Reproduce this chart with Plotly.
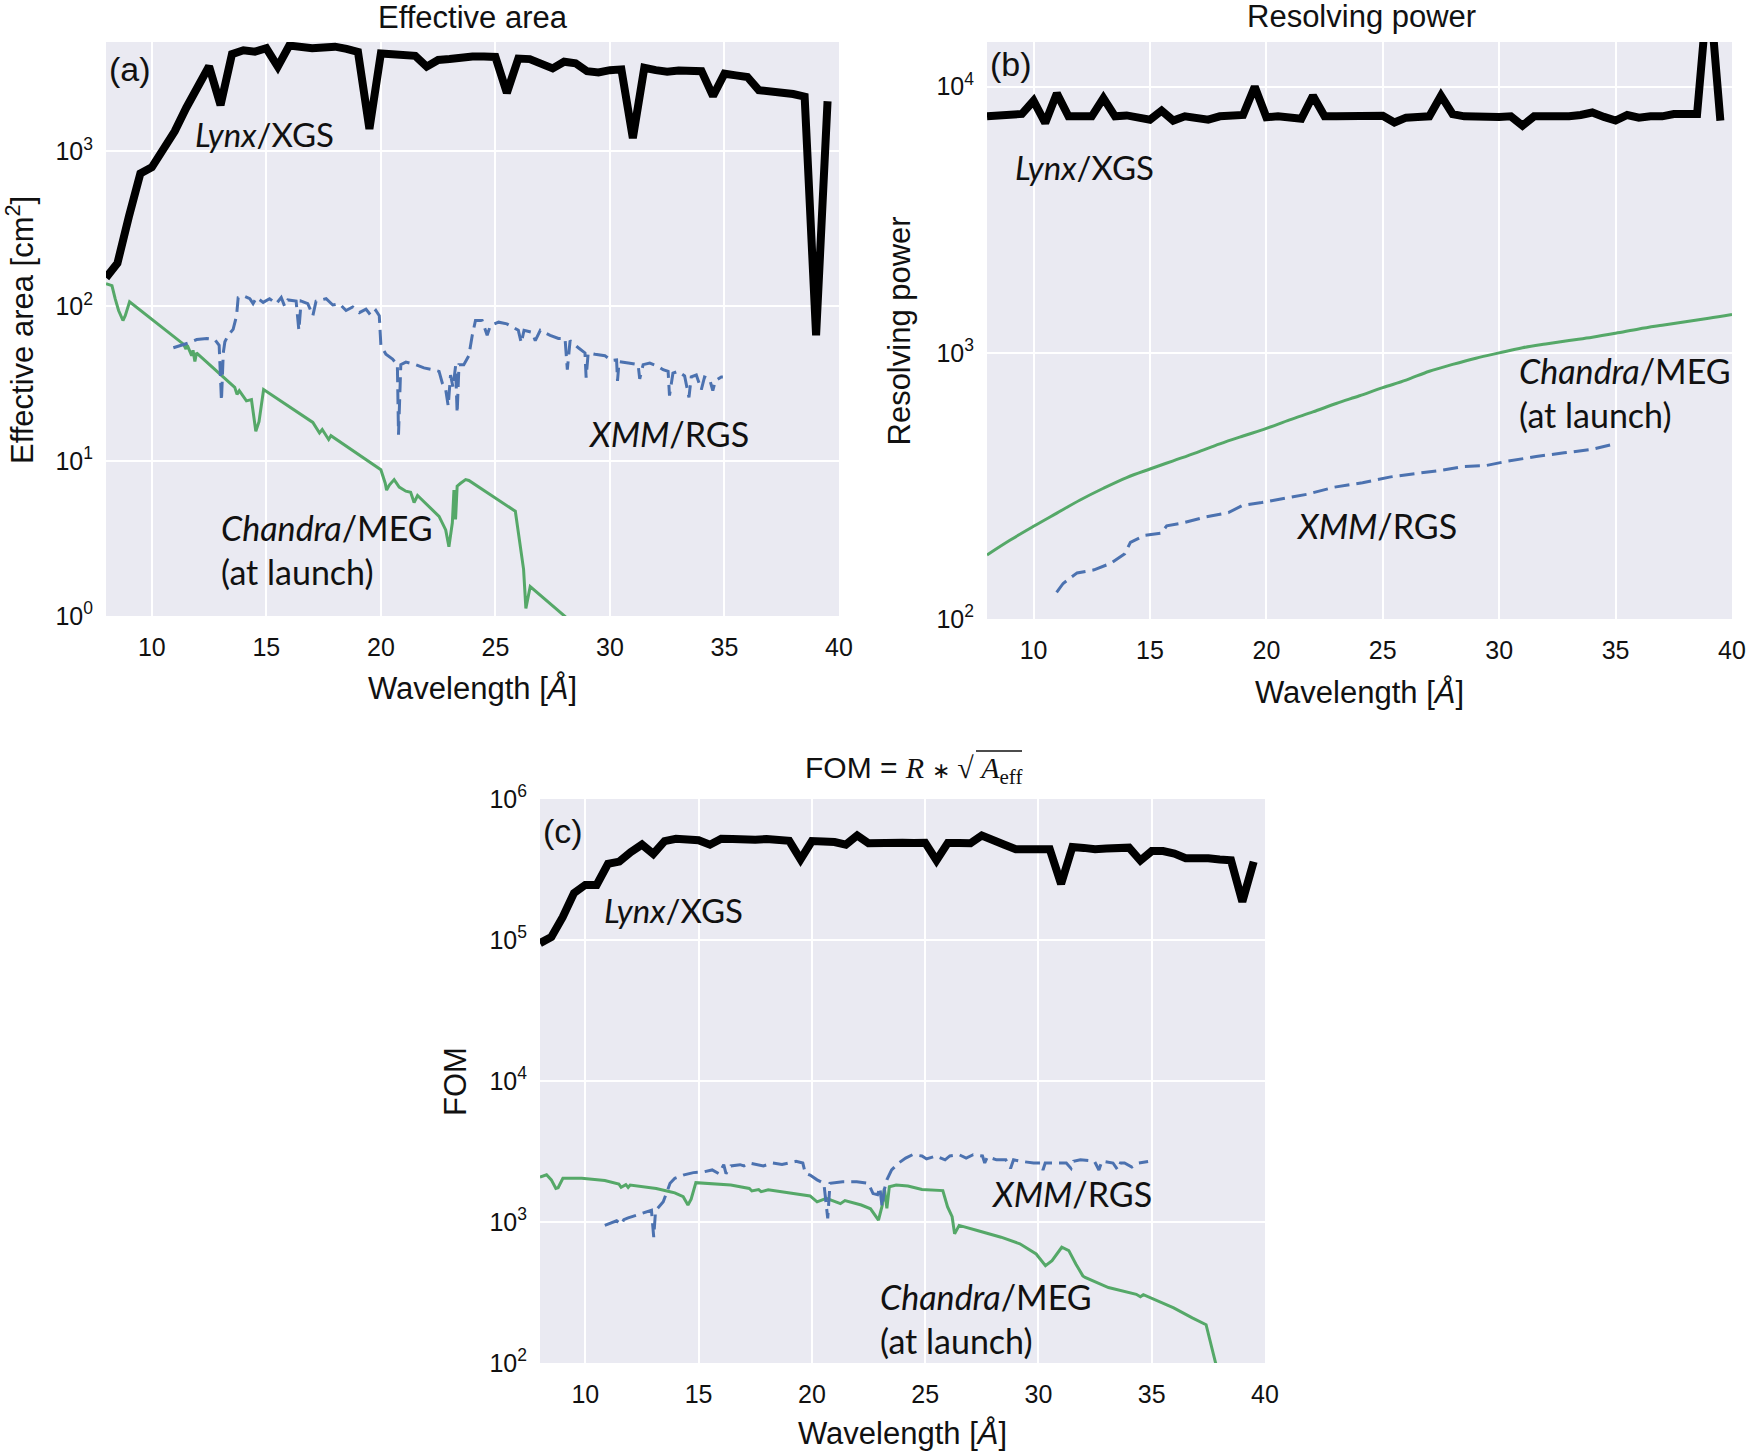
import plotly.graph_objects as go

# ---------------- data ----------------
lynx_wl = [8.0, 8.5, 9.0, 9.5, 10.0, 10.5, 11.0, 11.5, 12.0, 12.5, 13.0, 13.5, 14.0, 14.5, 15.0, 15.5,
           16.0, 16.5, 17.0, 17.5, 18.0, 18.5, 19.0, 19.5, 20.0, 20.5, 21.0, 21.5, 22.0, 22.5, 23.0, 23.5,
           24.0, 24.5, 25.0, 25.5, 26.0, 26.5, 27.0, 27.5, 28.0, 28.5, 29.0, 29.5, 30.0, 30.5, 31.0, 31.5,
           32.0, 32.5, 33.0, 33.5, 34.0, 34.5, 35.0, 35.5, 36.0, 36.5, 37.0, 37.5, 38.0, 38.5, 39.0, 39.5]
lynx_area = [153, 190, 380, 720, 790, 1050, 1350, 1910, 2640, 3550, 1990, 4250, 4500, 4410, 4640, 3530,
             4830, 4700, 4640, 4700, 4750, 4600, 4400, 1400, 4300, 4250, 4230, 4150, 3530, 3900, 3950, 4050,
             4100, 4100, 4080, 2390, 3980, 3950, 3700, 3440, 3800, 3710, 3300, 3240, 3350, 3390, 1220, 3470,
             3350, 3270, 3330, 3340, 3300, 2280, 3180, 3100, 3030, 2490, 2460, 2430, 2350, 2260, 65, 2110]
lynx_R = [7740, 7780, 7830, 7900, 8850, 7310, 9440, 7740, 7740, 7740, 9060, 7740, 7800, 7650, 7520, 8130,
          7460, 7740, 7600, 7520, 7740, 7780, 7830, 10000, 7680, 7740, 7650, 7580, 9250, 7740, 7740, 7740,
          7700, 7650, 7780, 7340, 7650, 7700, 7740, 9250, 7890, 7740, 7700, 7740, 7700, 7740, 7140, 7740,
          7700, 7700, 7740, 7830, 8000, 7700, 7460, 7830, 7650, 7740, 7740, 7890, 7830, 7890, 25000, 7460]
lynx_fom = [95000, 105000, 145000, 215000, 246000, 246000, 347000, 360000, 420000, 475000, 408000, 503000,
            522000, 515000, 510000, 474000, 522000, 520000, 510000, 515000, 520000, 520000, 505000, 373000,
            503000, 500000, 495000, 474000, 551000, 485000, 490000, 495000, 490000, 488000, 490000, 367000,
            488000, 488000, 485000, 551000, 503000, 474000, 440000, 440000, 440000, 440000, 250000, 457000,
            450000, 440000, 445000, 448000, 452000, 366000, 427000, 427000, 410000, 380000, 382000, 380000,
            372000, 367000, 187000, 359000]

meg_area_wl = [8.0, 8.26, 8.4, 8.55, 8.74, 8.84, 9.03, 11.38, 11.49, 11.55, 11.74, 11.8, 11.88, 11.95,
               13.62, 13.72, 13.82, 14.0, 14.13, 14.35, 14.54, 14.68, 14.88, 17.03, 17.17, 17.32, 17.44,
               17.6, 17.72, 17.82, 20.0, 20.19, 20.25, 20.37, 20.58, 20.8, 21.09, 21.3, 21.45, 21.6, 21.8,
               22.54, 22.83, 22.97, 23.12, 23.19, 23.26, 23.33, 23.48, 23.7, 23.84, 25.87, 26.23, 26.33,
               26.52, 28.04, 29.0, 30.0, 32.0, 35.0, 38.0]
meg_area = [140, 136, 112, 94, 81, 87, 107, 57, 53, 56, 48, 52, 44, 50, 30, 27, 28.5, 26, 24.5, 25, 15.6,
            18, 29, 17.8, 16.5, 15.2, 16, 14.8, 13.8, 14.6, 8.8, 7.2, 6.5, 7.0, 7.6, 6.8, 6.4, 6.3, 5.4,
            6.0, 5.6, 4.4, 3.6, 2.8, 4.0, 6.5, 4.2, 6.9, 7.2, 7.6, 7.5, 4.75, 2.0, 1.12, 1.55, 0.99, 0.75,
            0.6, 0.25, 0.06, 0.003]

rgs_area_wl = [10.94, 11.3, 11.6, 11.96, 12.4, 12.75, 12.94, 13.04, 13.12, 13.19, 13.33, 13.55, 13.7, 13.77,
               13.99, 14.28, 14.42, 14.57, 14.86, 15.14, 15.43, 15.65, 15.8, 15.94, 16.3, 16.42, 16.52,
               16.81, 17.03, 17.17, 17.61, 17.9, 18.19, 18.48, 18.77, 19.06, 19.35, 19.57, 19.78, 19.93,
               20.0, 20.22, 20.51, 20.72, 20.77, 20.87, 21.09, 21.52, 21.88, 22.25, 22.54, 22.68, 22.83,
               22.94, 23.04, 23.15, 23.26, 23.33, 23.41, 23.62, 23.84, 23.99, 24.13, 24.42, 24.64, 24.78,
               25.14, 25.5, 25.8, 26.0, 26.13, 26.25, 26.6, 26.74, 26.96, 27.39, 27.75, 28.04, 28.14, 28.26,
               28.62, 28.91, 28.96, 29.05, 29.35, 29.78, 30.07, 30.29, 30.33, 30.4, 30.8, 31.23, 31.3, 31.45,
               31.74, 32.1, 32.32, 32.54, 32.6, 32.75, 32.97, 33.26, 33.45, 33.55, 33.77, 33.99, 34.13,
               34.35, 34.49, 34.6, 34.86, 34.93]
rgs_area = [54, 56, 58, 61, 62, 61, 56, 24.5, 50, 59, 65, 71, 87, 114, 117, 112, 104, 114, 106, 112, 104,
            114, 100, 110, 108, 70, 108, 104, 87, 108, 112, 102, 104, 94, 99, 91, 96, 87, 94, 87, 56, 49,
            45.6, 42, 14.8, 42, 43.6, 42, 40, 39, 38, 32, 29, 22.7, 36, 30, 41, 20.4, 42, 42, 48, 65, 81,
            81, 65, 75, 79, 77, 73, 70, 58, 70, 68, 60, 70, 65, 62, 62, 39, 60, 54, 50, 34.6, 50, 49, 48,
            44.6, 45, 33, 44, 43, 42, 34, 42, 43, 41, 39, 38, 26.5, 37, 38, 35.5, 25.8, 35, 36, 29, 35, 34,
            28.5, 33, 35, 35]

meg_R_wl = [8, 9, 10, 11, 12, 13, 14, 15, 16, 17, 18, 19, 20, 21, 22, 23, 24, 25, 26, 27, 28, 29, 30, 31,
            32, 33, 34, 35, 36, 37, 38, 39, 40]
meg_R = [174, 198, 223, 250, 280, 310, 340, 366, 393, 422, 455, 487, 520, 560, 600, 645, 690, 740, 790, 853,
         905, 955, 1000, 1045, 1080, 1113, 1145, 1185, 1230, 1270, 1310, 1350, 1395]

rgs_R_wl = [10.99, 11.27, 11.87, 12.6, 13.32, 13.92, 14.16, 14.76, 15.48, 15.72, 16.44, 17.4, 18.37, 18.97,
            19.8, 20.77, 21.73, 22.93, 24.13, 25.34, 26.54, 27.5, 28.46, 29.42, 30.38, 31.59, 32.79, 33.99, 34.83]
rgs_R = [126, 136, 149, 153, 162, 176, 194, 206, 210, 224, 230, 242, 251, 267, 274, 283, 294, 313, 325, 342,
         352, 362, 374, 377, 392, 408, 421, 434, 452]

meg_fom_wl = [8.0, 8.29, 8.5, 8.7, 8.8, 9.01, 9.84, 10.86, 11.48, 11.58, 11.79, 11.89, 11.98, 13.13, 13.74,
              13.95, 14.32, 14.53, 14.67, 14.88, 16.42, 17.24, 17.35, 17.65, 17.76, 18.07, 19.92, 20.23,
              20.64, 20.95, 21.26, 21.46, 22.18, 22.59, 22.8, 22.94, 23.1, 23.2, 23.31, 23.42, 23.72, 24.24,
              24.86, 25.78, 25.99, 26.19, 26.3, 26.5, 27.3, 28.35, 29.18, 29.9, 30.31, 30.6, 31.03, 31.34,
              31.65, 31.96, 32.06, 33.09, 34.32, 34.5, 34.63, 34.94, 35.97, 36.79, 37.4, 37.82, 38.2]
meg_fom = [2080, 2160, 1990, 1730, 1750, 2040, 2040, 1970, 1860, 1760, 1840, 1760, 1830, 1730, 1640, 1610,
           1510, 1320, 1450, 1900, 1830, 1730, 1660, 1700, 1640, 1690, 1530, 1390, 1470, 1400, 1350, 1420,
           1320, 1240, 1120, 1030, 1300, 1730, 1250, 1780, 1830, 1800, 1700, 1670, 1280, 1090, 824, 946,
           870, 780, 700, 593, 490, 532, 662, 627, 504, 415, 404, 343, 307, 295, 305, 290, 246, 209, 187,
           100, 60]

rgs_fom_wl = [10.86, 11.07, 11.38, 11.58, 11.7, 11.89, 12.51, 12.92, 13.02, 13.1, 13.44, 13.74, 13.95, 14.36,
              14.77, 15.19, 15.6, 15.9, 16.11, 16.21, 16.42, 16.83, 17.0, 17.24, 17.86, 18.27, 18.68, 19.0,
              19.3, 19.6, 19.71, 19.92, 20.23, 20.53, 20.7, 20.8, 21.36, 21.98, 22.49, 22.7, 22.9, 23.0,
              23.1, 23.2, 23.31, 23.52, 23.83, 24.14, 24.44, 24.86, 25.06, 25.47, 25.88, 26.09, 26.5, 26.81,
              27.12, 27.53, 27.63, 27.75, 28.15, 28.56, 28.77, 28.9, 29.18, 29.79, 30.1, 30.2, 30.3, 30.62,
              31.23, 31.44, 31.55, 31.85, 32.47, 32.67, 32.8, 33.29, 33.5, 33.62, 33.8, 34.12, 34.42, 34.84]
rgs_fom = [946, 980, 1020, 960, 1040, 1070, 1150, 1210, 780, 1200, 1390, 1880, 2040, 2160, 2240, 2260, 2340,
           2200, 2550, 2200, 2500, 2550, 2500, 2620, 2500, 2620, 2560, 2620, 2690, 2620, 2220, 2150, 1990,
           1880, 1060, 1880, 1930, 1930, 1880, 1590, 1560, 1760, 1280, 1700, 1990, 2340, 2620, 2840, 3000,
           2940, 2800, 2940, 2760, 2940, 3000, 2840, 3000, 2940, 2620, 2900, 2760, 2760, 2400, 2760, 2700,
           2620, 2620, 2340, 2620, 2620, 2620, 2400, 2700, 2760, 2700, 2340, 2700, 2620, 2340, 2620, 2620,
           2450, 2620, 2690]

x_ticks = [10, 15, 20, 25, 30, 35, 40]
a_ticks = [1, 10, 100, 1000]
a_ticktext = ["10<sup>0</sup>", "10<sup>1</sup>", "10<sup>2</sup>", "10<sup>3</sup>"]
r_ticks = [100, 1000, 10000]
r_ticktext = ["10<sup>2</sup>", "10<sup>3</sup>", "10<sup>4</sup>"]
f_ticks = [100, 1000, 10000, 100000, 1000000]
f_ticktext = ["10<sup>2</sup>", "10<sup>3</sup>", "10<sup>4</sup>", "10<sup>5</sup>", "10<sup>6</sup>"]

# ---------------- style ----------------
W, H = 1749, 1452
BLACK = "#000000"
GREEN = "#55A868"
BLUE = "#4C72B0"
BG = "#EAEAF2"
TXT = "#111111"
AX_FONT = "Liberation Sans, Arial, sans-serif"
LBL_FONT = "Lato, Open Sans, sans-serif"

lynx_line = dict(color=BLACK, width=8)
meg_line = dict(color=GREEN, width=3)
rgs_line = dict(color=BLUE, width=3, dash="15px,7px")

fig = go.Figure()

def add(x, y, line, xa, ya, shape="linear"):
    fig.add_trace(go.Scatter(x=x, y=y, mode="lines", line=dict(line, shape=shape), xaxis=xa, yaxis=ya,
                             showlegend=False, hoverinfo="skip"))

# panel a
add(meg_area_wl, meg_area, meg_line, "x", "y")
add(rgs_area_wl, rgs_area, rgs_line, "x", "y")
add(lynx_wl, lynx_area, lynx_line, "x", "y")
# panel b
add(meg_R_wl, meg_R, meg_line, "x2", "y2", shape="spline")
add(rgs_R_wl, rgs_R, rgs_line, "x2", "y2")
add(lynx_wl, lynx_R, lynx_line, "x2", "y2")
# panel c
add(meg_fom_wl, meg_fom, meg_line, "x3", "y3")
add(rgs_fom_wl, rgs_fom, rgs_line, "x3", "y3")
add(lynx_wl, lynx_fom, lynx_line, "x3", "y3")

def px_x(p):
    return p / W

def px_y(p):
    return 1 - p / H

# plot rectangles (left, right, top, bottom) in pixels
A = (106, 839, 42, 616)
B = (987, 1732, 42, 619)
C = (540, 1265, 799, 1363)

def xaxis(rect, anchor):
    return dict(domain=[px_x(rect[0]), px_x(rect[1])], anchor=anchor, range=[8, 40], automargin=False,
                tickmode="array", tickvals=x_ticks, ticks="", showline=False, zeroline=False,
                showgrid=True, gridcolor="white", gridwidth=2,
                tickfont=dict(family=AX_FONT, size=25, color=TXT), ticklabelstandoff=14)

def yaxis(rect, anchor, rng, tv, tt):
    return dict(domain=[px_y(rect[3]), px_y(rect[2])], anchor=anchor, type="log", range=rng,
                automargin=False,
                tickmode="array", tickvals=tv, ticktext=tt, ticks="", showline=False, zeroline=False,
                showgrid=True, gridcolor="white", gridwidth=2,
                tickfont=dict(family=AX_FONT, size=25, color=TXT), ticklabelstandoff=12)

fig.update_layout(
    template="none",
    width=W, height=H, margin=dict(l=0, r=0, t=0, b=0, autoexpand=False),
    paper_bgcolor="white", plot_bgcolor=BG,
    xaxis=xaxis(A, "y"), yaxis=yaxis(A, "x", [0, 3.707], a_ticks, a_ticktext),
    xaxis2=xaxis(B, "y2"), yaxis2=yaxis(B, "x2", [2, 4.168], r_ticks, r_ticktext),
    xaxis3=xaxis(C, "y3"), yaxis3=yaxis(C, "x3", [2, 6], f_ticks, f_ticktext),
)

ann = []

def text(x, y, s, size, family=AX_FONT, xanchor="center", yanchor="middle", angle=0, align="center"):
    ann.append(dict(x=px_x(x), y=px_y(y), xref="paper", yref="paper", text=s, showarrow=False,
                    xanchor=xanchor, yanchor=yanchor, textangle=angle, align=align,
                    font=dict(family=family, size=size, color=TXT)))

# titles
text(473, 18, "Effective area", 31)
text(1361, 16, "Resolving power", 31)
text(1024, 770,
     "FOM = <span style='font-family:Liberation Serif'><i>R</i> <span style='font-size:22px'>∗</span> √ <i>A</i><sub>eff</sub></span>",
     30, xanchor="right")
fig.add_shape(type="line", xref="paper", yref="paper",
              x0=px_x(976), x1=px_x(1022), y0=px_y(751), y1=px_y(751),
              line=dict(color=TXT, width=1.5))

# axis titles
text((A[0] + A[1]) / 2, 688, "Wavelength [<i>Å</i>]", 31)
text((B[0] + B[1]) / 2, 692, "Wavelength [<i>Å</i>]", 31)
text((C[0] + C[1]) / 2, 1433, "Wavelength [<i>Å</i>]", 31)
text(20, 330, "Effective area [cm<sup>2</sup>]", 31, angle=-90)
text(899, (B[2] + B[3]) / 2, "Resolving power", 31, angle=-90)
text(455, (C[2] + C[3]) / 2, "FOM", 31, angle=-90)

# panel labels
text(107, 69, "(a)", 34, xanchor="left")
text(988, 64, "(b)", 34, xanchor="left")
text(541, 831, "(c)", 34, xanchor="left")

# series labels
text(193, 134, "<i>Lynx</i>/XGS", 33, LBL_FONT, xanchor="left")
text(586, 433, "<i>XMM</i>/RGS", 34, LBL_FONT, xanchor="left")
text(219, 549, "<i>Chandra</i>/MEG<br>(at launch)", 34, LBL_FONT, xanchor="left", align="left")
text(1013, 167, "<i>Lynx</i>/XGS", 33, LBL_FONT, xanchor="left")
text(1517, 392, "<i>Chandra</i>/MEG<br>(at launch)", 34, LBL_FONT, xanchor="left", align="left")
text(1294, 526, "<i>XMM</i>/RGS", 34, LBL_FONT, xanchor="left")
text(602, 910, "<i>Lynx</i>/XGS", 33, LBL_FONT, xanchor="left")
text(989, 1193, "<i>XMM</i>/RGS", 34, LBL_FONT, xanchor="left")
text(878, 1318, "<i>Chandra</i>/MEG<br>(at launch)", 34, LBL_FONT, xanchor="left", align="left")

fig.update_layout(annotations=ann)
fig.write_html("out.html", config={"displayModeBar": False},
               post_script="document.body.style.margin='0px';document.body.style.overflow='hidden';")
